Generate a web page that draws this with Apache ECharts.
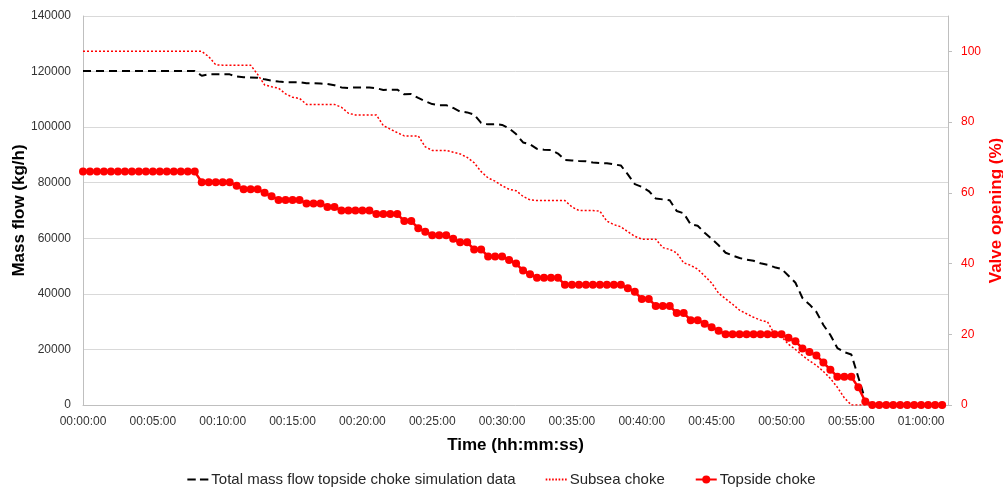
<!DOCTYPE html>
<html>
<head>
<meta charset="utf-8">
<script src="https://cdn.jsdelivr.net/npm/echarts@6/dist/echarts.min.js"></script>
<style>html,body{margin:0;padding:0;background:#fff}#c{width:1003px;height:489px}</style>
</head>
<body>
<div id="c"></div>
<script>
// sample times in minutes (one sample every 30 s)
const timeMin = Array.from({length: 124}, (_, i) => i * 0.5);
const xTickMinutes = [0, 5, 10, 15, 20, 25, 30, 35, 40, 45, 50, 55, 60];
const leftTicks = [0, 20000, 40000, 60000, 80000, 100000, 120000, 140000];
const rightTicks = [0, 20, 40, 60, 80, 100];

// Total mass flow topside choke simulation data (kg/h)
const totalFlow = [
 120200,120200,120200,120200,120200,120200,120200,120200,120200,120200,
 120200,120200,120200,120200,120200,120200,120200,118500,119000,119000,
 119000,119000,118200,118000,117900,117800,117200,116700,116400,116200,
 116200,116200,115800,115800,115700,115500,115100,114300,114100,114300,
 114300,114300,114000,113400,113500,113500,111800,111900,110500,109300,
 108300,107900,107900,106900,105600,105300,104500,101500,101000,101100,
 100800,99600,97500,94500,93800,92200,91900,91800,90500,88200,
 88000,87800,87700,87300,87100,87000,86600,86200,83000,79500,
 78500,77000,74300,74000,73700,69800,69000,65000,64500,62000,
 59800,57500,54800,53800,52900,52300,51900,51000,50500,49600,
 49000,46500,44000,38500,36200,33500,28800,25200,20500,19000,
 18200,10000,1800,0,0,0,0,0,0,0,
 0,0,0,0
];
// Subsea choke (%)
const subseaChoke = [
 100,100,100,100,100,100,100,100,100,100,
 100,100,100,100,100,100,100,100,98.5,96.2,
 96.1,96.1,96.1,96.1,96.1,93.5,90.5,90,89.6,88,
 87,86.7,85,85,85,85,85,84.2,82.5,82,
 82,82,82,79,78,77,76.1,76.1,76.1,73,
 72,72,72,71.5,71,70,68.5,66,64.2,63.3,
 62,61,60.6,59,58,57.8,57.8,57.8,57.8,57.8,
 56,55,55,55,54.8,52,51,50.4,49,47.7,
 46.9,46.9,46.9,44.5,44,43,40.2,39.5,38.4,36.5,
 34.5,31.6,30,28.5,26.8,25.8,24.8,24,23.5,20,
 19.3,17.2,15.7,14,12.5,11.2,9.5,7.5,5,2,
 0,0,0,0,0,0,0,0,0,0,
 0,0,0,0
];
// Topside choke (%)
const topsideChoke = [
 66,66,66,66,66,66,66,66,66,66,
 66,66,66,66,66,66,66,63,63,63,
 63,63,62,61,61,61,60,59,58,58,
 58,58,57,57,57,56,56,55,55,55,
 55,55,54,54,54,54,52,52,50,49,
 48,48,48,47,46,46,44,44,42,42,
 42,41,40,38,37,36,36,36,36,34,
 34,34,34,34,34,34,34,34,33,32,
 30,30,28,28,28,26,26,24,24,23,
 22,21,20,20,20,20,20,20,20,20,
 20,19,18,16,15,14,12,10,8,8,
 8,5,1,0,0,0,0,0,0,0,
 0,0,0,0
];

const pair = arr => arr.map((v, i) => [timeMin[i], v]);
const fmtTime = m => {
  const total = Math.round(m * 60);
  const h = Math.floor(total / 3600), mi = Math.floor((total % 3600) / 60), s = total % 60;
  const p = n => String(n).padStart(2, '0');
  return p(h) + ':' + p(mi) + ':' + p(s);
};
const FONT = 'Liberation Sans';
const chart = echarts.init(document.getElementById('c'), null, {renderer: 'canvas'});
chart.setOption({
  animation: false,
  backgroundColor: '#fff',
  textStyle: {fontFamily: FONT},
  grid: {left: 83, right: 55, top: 16, bottom: 84, containLabel: false, outerBoundsMode: 'none'},
  legend: {
    top: 467, left: 'center', itemGap: 30, itemWidth: 21, itemHeight: 10,
    textStyle: {fontFamily: FONT, fontSize: 15, color: '#262626', padding: [0, 0, 0, -2]},
    data: [
      {name: 'Total mass flow topside choke simulation data', icon: 'path://M0,4 L8,4 L8,6 L0,6 Z M12,4 L20,4 L20,6 L12,6 Z'},
      {name: 'Subsea choke', icon: 'path://M0,4 L1.5,4 L1.5,6 L0,6 Z M3,4 L4.5,4 L4.5,6 L3,6 Z M6,4 L7.5,4 L7.5,6 L6,6 Z M9,4 L10.5,4 L10.5,6 L9,6 Z M12,4 L13.5,4 L13.5,6 L12,6 Z M15,4 L16.5,4 L16.5,6 L15,6 Z M18,4 L19.5,4 L19.5,6 L18,6 Z', itemStyle: {color: '#ff0000'}},
      {name: 'Topside choke'}
    ]
  },
  xAxis: {
    type: 'value', min: 0, max: 61.92, interval: 5,
    name: 'Time (hh:mm:ss)', nameLocation: 'middle', nameGap: 32,
    nameTextStyle: {fontFamily: FONT, fontSize: 17, fontWeight: 'bold', color: '#000'},
    axisLine: {show: true, lineStyle: {color: '#bfbfbf', width: 1}},
    axisTick: {show: false},
    splitLine: {show: false},
    axisLabel: {customValues: xTickMinutes, formatter: v => fmtTime(v), fontSize: 12, color: '#333', margin: 11}
  },
  yAxis: [
    {
      type: 'value', min: 0, max: 140000, interval: 20000, position: 'left',
      name: 'Mass flow (kg/h)', nameLocation: 'middle', nameGap: 55, nameMoveOverlap: false,
      nameTextStyle: {fontFamily: FONT, fontSize: 17, fontWeight: 'bold', color: '#000'},
      axisLine: {show: true, lineStyle: {color: '#bfbfbf'}},
      axisTick: {show: false},
      splitLine: {show: true, lineStyle: {color: '#d9d9d9', width: 1}},
      axisLabel: {customValues: leftTicks, formatter: v => String(v), fontSize: 12, color: '#333', margin: 12}
    },
    {
      type: 'value', min: 0, max: 110, interval: 20, position: 'right',
      name: 'Valve opening (%)', nameLocation: 'middle', nameGap: 40, nameMoveOverlap: false,
      nameTextStyle: {fontFamily: FONT, fontSize: 17, fontWeight: 'bold', color: '#ff0000'},
      axisLine: {show: true, lineStyle: {color: '#bfbfbf'}},
      axisTick: {show: true, customValues: rightTicks, length: 4, lineStyle: {color: '#bfbfbf'}},
      splitLine: {show: false},
      axisLabel: {customValues: rightTicks, fontSize: 12, color: '#ff0000', margin: 13}
    }
  ],
  series: [
    {
      name: 'Total mass flow topside choke simulation data', type: 'line', yAxisIndex: 0,
      data: pair(totalFlow), showSymbol: false, symbol: 'none',
      lineStyle: {color: '#000', width: 2, type: [8, 5]}, itemStyle: {color: '#000'}, z: 2
    },
    {
      name: 'Subsea choke', type: 'line', yAxisIndex: 1,
      data: pair(subseaChoke), showSymbol: false, symbol: 'none',
      lineStyle: {color: '#ff0000', width: 1.5, type: [2, 2]}, itemStyle: {color: '#ff0000'}, z: 3
    },
    {
      name: 'Topside choke', type: 'line', yAxisIndex: 1,
      data: pair(topsideChoke), symbol: 'circle', symbolSize: 8, showSymbol: true,
      lineStyle: {color: '#ff0000', width: 2.5}, itemStyle: {color: '#ff0000'}, z: 4
    }
  ]
});
</script>
</body>
</html>
